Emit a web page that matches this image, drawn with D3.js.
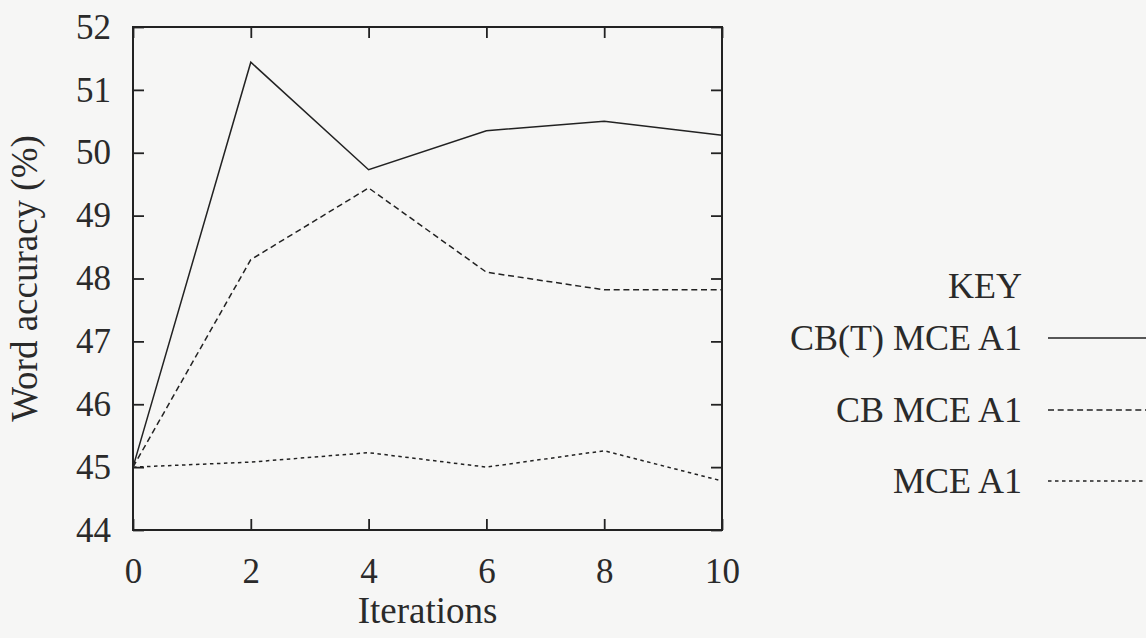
<!DOCTYPE html>
<html>
<head>
<meta charset="utf-8">
<script src="https://cdn.jsdelivr.net/npm/d3@7"></script>
<style>
    body { margin: 0; background: #f6f6f5; }
    svg { display: block; }
    text { font-family: "Liberation Serif", "DejaVu Serif", serif; fill: #2a2a2a; }
</style>
</head>
<body>
<svg id="chart"></svg>
<script>
const iterations = [0, 2, 4, 6, 8, 10];
const cbtMce = [45.0, 51.44, 49.73, 50.35, 50.5, 50.28];
const cbMce = [45.0, 48.3, 49.44, 48.1, 47.82, 47.82];
const mce = [45.0, 45.08, 45.23, 45.0, 45.26, 44.78];
const yTicks = [44, 45, 46, 47, 48, 49, 50, 51, 52];
const xTicks = [0, 2, 4, 6, 8, 10];

const series = [
    { name: 'CB(T) MCE A1', values: cbtMce, dash: null },
    { name: 'CB MCE A1', values: cbMce, dash: '6,3.7' },
    { name: 'MCE A1', values: mce, dash: '3.5,3.5' }
];

const width = 1146;
const height = 638;
const margin = { top: 27, right: 424, bottom: 108, left: 133 };
const innerWidth = width - margin.left - margin.right;
const innerHeight = height - margin.top - margin.bottom;

const svg = d3.select('#chart')
    .attr('width', width)
    .attr('height', height);

const xScale = d3.scaleLinear().domain([0, 10]).range([0, innerWidth]);
const yScale = d3.scaleLinear().domain([44, 52]).range([innerHeight, 0]);

const g = svg.append('g')
    .attr('transform', `translate(${margin.left}, ${margin.top})`);

// inward ticks on all four sides
const tickLen = 11;
g.append('g')
    .attr('transform', `translate(0, ${innerHeight})`)
    .call(d3.axisBottom(xScale).tickValues(xTicks).tickSize(-tickLen).tickFormat(d3.format('d')))
    .call(a => a.select('.domain').remove())
    .call(a => a.selectAll('text')
        .attr('y', 53)
        .attr('dy', '0')
        .attr('font-size', 35)
        .attr('fill', '#2a2a2a')
        .style('font-family', '"Liberation Serif", serif'));

g.append('g')
    .call(d3.axisTop(xScale).tickValues(xTicks).tickSize(-tickLen).tickFormat(''))
    .call(a => a.select('.domain').remove())
    .call(a => a.selectAll('text').remove());

g.append('g')
    .call(d3.axisLeft(yScale).tickValues(yTicks).tickSize(-tickLen).tickPadding(22).tickFormat(d3.format('d')))
    .call(a => a.select('.domain').remove())
    .call(a => a.selectAll('text')
        .attr('font-size', 35)
        .attr('fill', '#2a2a2a')
        .style('font-family', '"Liberation Serif", serif'));

g.append('g')
    .attr('transform', `translate(${innerWidth}, 0)`)
    .call(d3.axisRight(yScale).tickValues(yTicks).tickSize(-tickLen).tickFormat(''))
    .call(a => a.select('.domain').remove())
    .call(a => a.selectAll('text').remove());

g.selectAll('.tick line').attr('stroke', '#222').attr('stroke-width', 1.8);

g.append('rect')
    .attr('width', innerWidth)
    .attr('height', innerHeight)
    .attr('fill', 'none')
    .attr('stroke', '#222')
    .attr('stroke-width', 2);

const line = d3.line()
    .x((d, i) => xScale(iterations[i]))
    .y(d => yScale(d));

series.forEach(s => {
    g.append('path')
        .datum(s.values)
        .attr('fill', 'none')
        .attr('stroke', '#222')
        .attr('stroke-width', 1.5)
        .attr('stroke-dasharray', s.dash)
        .attr('d', line);
});

// axis titles
svg.append('text')
    .attr('x', margin.left + innerWidth / 2)
    .attr('y', 623)
    .attr('text-anchor', 'middle')
    .attr('font-size', 37)
    .text('Iterations');

svg.append('text')
    .attr('transform', `translate(37, ${margin.top + innerHeight / 2}) rotate(-90)`)
    .attr('text-anchor', 'middle')
    .attr('font-size', 37)
    .text('Word accuracy (%)');

// key
const keyX = 1022;
svg.append('text')
    .attr('x', keyX)
    .attr('y', 298)
    .attr('text-anchor', 'end')
    .attr('font-size', 36)
    .text('KEY');

const keyRows = [338, 410, 481];
series.forEach((s, i) => {
    svg.append('text')
        .attr('x', keyX)
        .attr('y', keyRows[i] + 12)
        .attr('text-anchor', 'end')
        .attr('font-size', 36)
        .text(s.name);
    svg.append('line')
        .attr('x1', 1048)
        .attr('x2', 1146)
        .attr('y1', keyRows[i])
        .attr('y2', keyRows[i])
        .attr('stroke', '#222')
        .attr('stroke-width', 1.5)
        .attr('stroke-dasharray', s.dash);
});
</script>
</body>
</html>
